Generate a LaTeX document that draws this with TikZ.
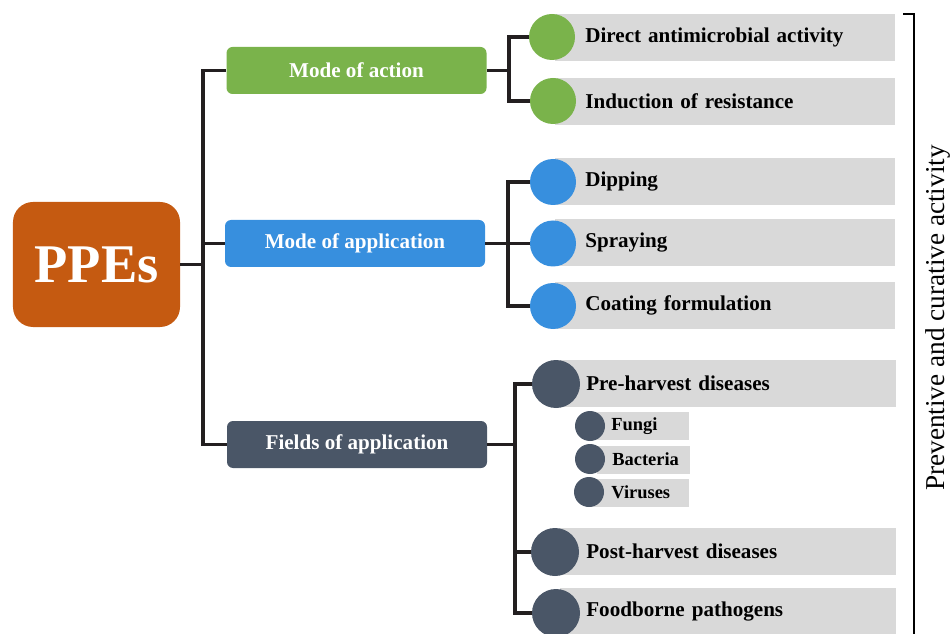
\documentclass[tikz,border=0pt]{standalone}
\usepackage{fontspec}
\setmainfont{Liberation Serif}

\definecolor{ppeorange}{HTML}{C55A11}
\definecolor{actgreen}{HTML}{7AB34B}
\definecolor{appblue}{HTML}{378FDE}
\definecolor{flddark}{HTML}{4A5667}
\definecolor{bargray}{HTML}{D9D9D9}
\definecolor{linedark}{HTML}{231F20}

\begin{document}
\begin{tikzpicture}[
  head/.style={rounded corners=0.12cm,minimum width=5.2cm,minimum height=0.94cm,text=white,font=\bfseries\fontsize{12}{14}\selectfont},
  bar/.style={fill=bargray,anchor=west,minimum height=0.94cm,text width=5.6cm,inner xsep=0.6cm,align=left,font=\bfseries\fontsize{12}{14}\selectfont},
  subbar/.style={fill=bargray,anchor=west,minimum height=0.56cm,text width=1.14cm,inner xsep=0.42cm,align=left,font=\bfseries\fontsize{10.5}{12}\selectfont},
  dot/.style={circle,minimum size=0.92cm,inner sep=0pt},
  conn/.style={line width=2.1pt,color=linedark}]

\useasboundingbox (0,0) rectangle (19,-12.68);

% root
\node[rounded corners=0.4cm,fill=ppeorange,minimum width=3.34cm,minimum height=2.5cm,text=white,font=\bfseries\fontsize{31}{36}\selectfont] (ppe) at (1.93,-5.29) {PPEs};

% three heads
\node[head,fill=actgreen] (act) at (7.13,-1.41) {Mode of action};
\node[head,fill=appblue] (app) at (7.10,-4.87) {Mode of application};
\node[head,fill=flddark] (fld) at (7.14,-8.89) {Fields of application};

\coordinate (j0) at (4.06,-5.29);
\draw[conn] (ppe.east) -- (j0);
\draw[conn] (act.west) -| (j0);
\draw[conn] (app.west) -| (j0);
\draw[conn] (fld.west) -| (j0);

% mode of action
\node[bar] (b1) at (11.1,-0.75) {Direct antimicrobial activity};
\node[bar] (b2) at (11.1,-2.03) {Induction of resistance};
\node[dot,fill=actgreen] (c1) at (11.04,-0.74) {};
\node[dot,fill=actgreen] (c2) at (11.06,-2.02) {};

\coordinate (ja) at (10.18,-1.41);
\draw[conn] (act.east) -- (ja);
\draw[conn] (c1.west) -| (ja);
\draw[conn] (c2.west) -| (ja);

% mode of application
\node[bar] (b3) at (11.1,-3.63) {Dipping};
\node[bar] (b4) at (11.1,-4.85) {Spraying};
\node[bar] (b5) at (11.1,-6.11) {Coating formulation};
\node[dot,fill=appblue] (c3) at (11.06,-3.64) {};
\node[dot,fill=appblue] (c4) at (11.06,-4.87) {};
\node[dot,fill=appblue] (c5) at (11.06,-6.12) {};

\coordinate (jb) at (10.16,-4.87);
\draw[conn] (app.east) -- (jb);
\draw[conn] (c3.west) -| (jb);
\draw[conn] (c4.west) -- (jb);
\draw[conn] (c5.west) -| (jb);

% fields of application
\node[bar,text width=5.68cm,inner xsep=0.52cm] (b6) at (11.2,-7.67) {Pre-harvest diseases};
\node[bar,text width=5.68cm,inner xsep=0.52cm] (b7) at (11.2,-11.03) {Post-harvest diseases};
\node[bar,text width=5.68cm,inner xsep=0.52cm] (b8) at (11.2,-12.23) {Foodborne pathogens};
\node[dot,fill=flddark,minimum size=0.96cm] (c6) at (11.12,-7.68) {};
\node[dot,fill=flddark,minimum size=0.96cm] (c7) at (11.1,-11.04) {};
\node[dot,fill=flddark,minimum size=0.96cm] (c8) at (11.12,-12.26) {};

\coordinate (jc) at (10.3,-8.89);
\draw[conn] (fld.east) -- (jc);
\draw[conn] (c6.west) -| (jc);
\draw[conn] (c7.west) -| (jc);
\draw[conn] (c8.west) -| (jc);

% pre-harvest groups
\node[subbar] (s1) at (11.8,-8.52) {Fungi};
\node[subbar,text width=1.26cm,inner xsep=0.3cm] (s2) at (11.94,-9.19) {Bacteria};
\node[subbar] (s3) at (11.8,-9.85) {Viruses};
\node[dot,fill=flddark,minimum size=0.6cm] (d1) at (11.8,-8.52) {};
\node[dot,fill=flddark,minimum size=0.6cm] (d2) at (11.8,-9.18) {};
\node[dot,fill=flddark,minimum size=0.6cm] (d3) at (11.78,-9.84) {};

% bracket
\draw[line width=1pt] (18.06,-0.28) -- (18.28,-0.28) -- (18.28,-12.68);
\node[rotate=90,font=\fontsize{15.5}{18}\selectfont] (side) at (18.76,-6.36) {Preventive and curative activity};

\end{tikzpicture}
\end{document}
